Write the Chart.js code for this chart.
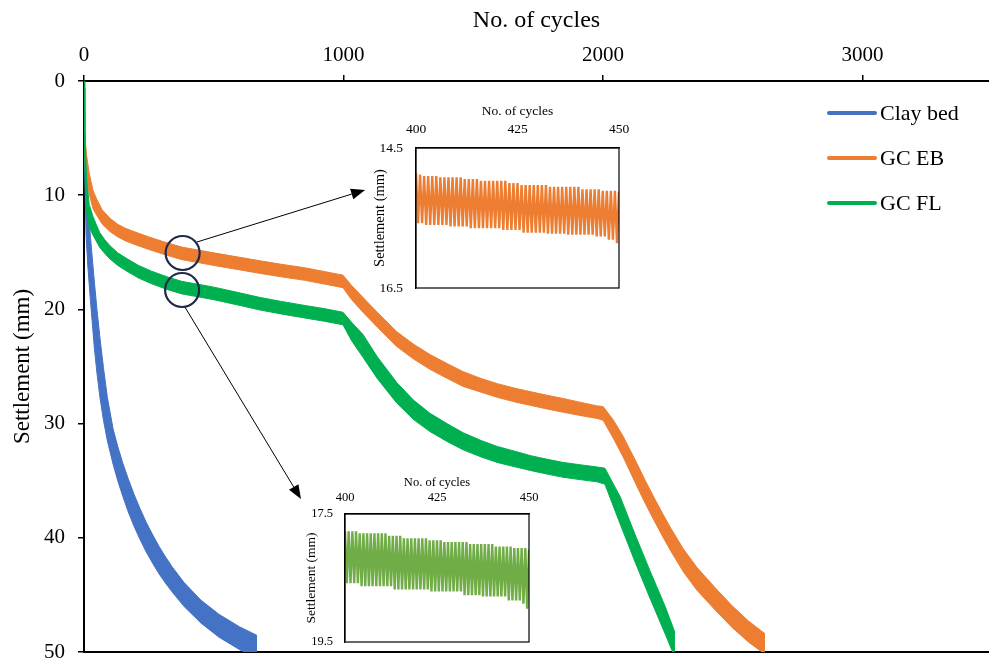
<!DOCTYPE html>
<html>
<head>
<meta charset="utf-8">
<script src="https://cdn.jsdelivr.net/npm/chart.js@4.4.1/dist/chart.umd.min.js"></script>
<style>
  body { margin: 0; background: #fff; }
  #wrap { position: relative; width: 989px; height: 660px; overflow: hidden; }
  canvas { position: absolute; }
</style>
</head>
<body>
<div id="wrap">
  <canvas id="main" width="989" height="660" style="left:0;top:0"></canvas>
  <canvas id="insetEB" width="270" height="200" style="left:360px;top:95px"></canvas>
  <canvas id="insetFL" width="250" height="188" style="left:290px;top:462px"></canvas>
</div>
<script>
// series names (legend order)
const seriesNames = ['Clay bed', 'GC EB', 'GC FL'];

// axis ticks
const cycleTicks = [0, 1000, 2000, 3000];
const settlementTicks = [0, 10, 20, 30, 40, 50];

// Clay bed: band edges (min / max settlement within a cycle), mm
const clayCycles = [0, 3, 8, 15, 25, 40, 50, 62, 75, 90, 112, 130, 150, 170, 193, 215, 240, 265, 289, 315, 340, 385, 450, 520, 600, 667];
const clayTop    = [0, 4.0, 8.5, 10.9, 13.7, 17.6, 20.0, 22.6, 25.1, 27.7, 30.45, 32.0, 33.5, 34.8, 36.2, 37.4, 38.65, 39.75, 40.75, 41.7, 42.55, 43.9, 45.45, 46.7, 47.8, 48.55];
const clayBottom = [0.6, 8.0, 13.5, 16.3, 19.3, 23.4, 25.6, 27.8, 29.7, 31.5, 33.55, 35.0, 36.4, 37.7, 39.0, 40.1, 41.25, 42.25, 43.15, 44.0, 44.75, 46.0, 47.45, 48.7, 49.8, 50.55];

// GC EB
const ebCycles = [0, 4, 10, 20, 35, 50, 70, 100, 130, 160, 200, 250, 310, 378, 440, 500, 590, 680, 760, 850, 930, 998,
  1030, 1075, 1130, 1205, 1270, 1333, 1400, 1461, 1530, 1592, 1660, 1719, 1780, 1846, 1910, 1977, 2000,
  2040, 2077, 2105, 2135, 2165, 2197, 2230, 2262, 2310, 2362, 2430, 2497, 2560, 2624];
const ebTop    = [4.3, 5.0, 6.5, 8.1, 9.6, 10.4, 11.28, 12.02, 12.55, 12.9, 13.25, 13.65, 14.1, 14.55, 14.8, 15.05, 15.4, 15.75, 16.05, 16.35, 16.7, 17.0,
  17.88, 18.95, 20.25, 21.95, 23.05, 23.95, 24.75, 25.45, 26.05, 26.5, 26.9, 27.2, 27.5, 27.8, 28.12, 28.45, 28.5,
  29.7, 31.1, 32.35, 33.7, 35.1, 36.5, 37.9, 39.2, 41.0, 42.6, 44.33, 45.95, 47.28, 48.4];
const ebBottom = [4.7, 7.0, 8.5, 9.9, 11.2, 11.8, 12.52, 13.18, 13.65, 14.0, 14.35, 14.75, 15.2, 15.65, 15.9, 16.15, 16.5, 16.85, 17.15, 17.45, 17.8, 18.1,
  19.12, 20.25, 21.55, 23.25, 24.35, 25.25, 26.05, 26.75, 27.25, 27.7, 28.1, 28.4, 28.7, 29.0, 29.28, 29.55, 29.7,
  31.3, 32.9, 34.25, 35.7, 37.1, 38.5, 39.9, 41.2, 43.0, 44.6, 46.27, 47.85, 49.12, 50.2];

// GC FL
const flCycles = [0, 2, 5, 10, 20, 35, 60, 80, 100, 130, 165, 210, 260, 320, 378, 440, 500, 590, 678, 760, 850, 930, 998,
  1030, 1075, 1130, 1205, 1270, 1333, 1400, 1461, 1530, 1592, 1660, 1719, 1780, 1846, 1910, 1977, 2007,
  2066, 2123, 2181, 2239, 2277];
const flTop    = [0, 2.0, 5.7, 8.6, 10.8, 11.9, 13.25, 13.9, 14.42, 15.05, 15.55, 16.15, 16.65, 17.15, 17.55, 17.8, 18.05, 18.5, 18.95, 19.3, 19.65, 19.95, 20.25,
  21.1, 22.2, 24.15, 26.4, 27.95, 29.1, 30.02, 30.8, 31.48, 32.0, 32.42, 32.8, 33.1, 33.4, 33.6, 33.8, 33.9,
  36.4, 39.7, 42.9, 46.0, 48.3];
const flBottom = [0.1, 6.0, 9.3, 11.4, 12.8, 13.5, 14.55, 15.1, 15.58, 16.15, 16.65, 17.25, 17.75, 18.25, 18.65, 18.9, 19.15, 19.6, 20.05, 20.4, 20.75, 21.05, 21.35,
  22.7, 24.2, 26.05, 28.2, 29.65, 30.7, 31.58, 32.3, 32.92, 33.4, 33.78, 34.1, 34.4, 34.7, 34.9, 35.1, 35.3,
  38.8, 42.1, 45.3, 48.4, 50.5];

// insets: cycles 400-450, one peak per cycle and one trough between
const insetStart = 400;
const insetTicks = [400, 425, 450];
const ebPeaks = [14.86, 14.88, 14.90, 14.90, 14.90, 14.90, 14.92, 14.92, 14.92, 14.92, 14.92, 14.92, 14.945, 14.945, 14.945, 14.945,
  14.97, 14.97, 14.97, 14.97, 14.97, 14.97, 14.97, 15.0, 15.0, 15.0, 15.03, 15.03, 15.03, 15.03, 15.03, 15.03, 15.03,
  15.055, 15.055, 15.055, 15.055, 15.055, 15.055, 15.055, 15.055, 15.09, 15.09, 15.09, 15.09, 15.09, 15.11, 15.11, 15.11, 15.11, 15.125];
const ebTroughs = [15.575, 15.575, 15.60, 15.60, 15.60, 15.60, 15.60, 15.60, 15.62, 15.62, 15.62, 15.62, 15.62,
  15.645, 15.645, 15.645, 15.645, 15.645, 15.645, 15.645, 15.645, 15.67, 15.67, 15.67, 15.67, 15.67,
  15.71, 15.71, 15.71, 15.71, 15.71, 15.71, 15.725, 15.725, 15.725, 15.725, 15.725,
  15.74, 15.74, 15.74, 15.74, 15.74, 15.74, 15.74, 15.765, 15.765, 15.765, 15.81, 15.81, 15.86];
const flPeaks = [17.77, 17.77, 17.77, 17.77, 17.80, 17.80, 17.80, 17.80, 17.80, 17.80, 17.80, 17.80, 17.84, 17.84, 17.84, 17.84,
  17.88, 17.88, 17.88, 17.88, 17.88, 17.88, 17.88, 17.91, 17.91, 17.91, 17.91, 17.94, 17.94, 17.94, 17.94, 17.94, 17.94, 17.94,
  17.97, 17.97, 17.97, 17.97, 17.97, 17.97, 17.97, 18.01, 18.01, 18.01, 18.01, 18.01, 18.03, 18.03, 18.03, 18.03, 18.06];
const flTroughs = [18.58, 18.58, 18.58, 18.58, 18.63, 18.63, 18.63, 18.63, 18.63, 18.63, 18.63, 18.63, 18.63,
  18.68, 18.68, 18.68, 18.68, 18.68, 18.68, 18.68, 18.68, 18.68, 18.68, 18.71, 18.71, 18.71, 18.71, 18.71, 18.71, 18.71, 18.71, 18.71,
  18.77, 18.77, 18.77, 18.77, 18.77, 18.79, 18.79, 18.79, 18.79, 18.79, 18.79, 18.79, 18.85, 18.85, 18.85, 18.85, 18.90, 18.98];

const SERIF = "'Liberation Serif', 'Times New Roman', serif";
const BLUE = '#4472C4', ORANGE = '#ED7D31', GREEN = '#00B050', GREEN_INSET = '#70AD47';

function pts(cycles, vals) {
    return cycles.map((c, i) => ({x: c, y: vals[i]}));
}

function edge(label, data, color, fill) {
    return {
        label, data, xAxisID: 'x', yAxisID: 'y',
        borderColor: color, backgroundColor: color, borderWidth: 1,
        pointRadius: 0, tension: 0, fill
    };
}

// green drawn last (index 0 is painted on top)
const mainDatasets = [
    edge(seriesNames[2], pts(flCycles, flTop), GREEN, false),
    edge(seriesNames[2] + ' max', pts(flCycles, flBottom), GREEN, '-1'),
    edge(seriesNames[1], pts(ebCycles, ebTop), ORANGE, false),
    edge(seriesNames[1] + ' max', pts(ebCycles, ebBottom), ORANGE, '-1'),
    edge(seriesNames[0], pts(clayCycles, clayTop), BLUE, false),
    edge(seriesNames[0] + ' max', pts(clayCycles, clayBottom), BLUE, '-1')
];

// legend at right
const sideLegend = {
    id: 'sideLegend',
    afterDraw(chart) {
        const ctx = chart.ctx;
        const colors = [BLUE, ORANGE, GREEN];
        ctx.save();
        ctx.font = '22px ' + SERIF;
        ctx.textBaseline = 'middle';
        seriesNames.forEach((name, i) => {
            const y = 113 + i * 45;
            ctx.strokeStyle = colors[i];
            ctx.lineWidth = 4;
            ctx.lineCap = 'round';
            ctx.beginPath();
            ctx.moveTo(829, y);
            ctx.lineTo(875, y);
            ctx.stroke();
            ctx.fillStyle = '#000';
            ctx.fillText(name, 880, y + 1);
        });
        ctx.restore();
    }
};

// circles + arrows pointing to the insets (data coords)
const circleSpots = [[380, 15.06], [378, 18.3]];
const arrowLines = [[[435, 14.1], [1083, 9.54]], [[389, 19.8], [836, 36.6]]];

const callouts = {
    id: 'callouts',
    afterDatasetsDraw(chart) {
        const {ctx, scales: {x, y}} = chart;
        ctx.save();
        ctx.strokeStyle = '#1F2A4A';
        ctx.lineWidth = 2.2;
        circleSpots.forEach(([c, s]) => {
            ctx.beginPath();
            ctx.arc(x.getPixelForValue(c), y.getPixelForValue(s), 17, 0, Math.PI * 2);
            ctx.stroke();
        });
        ctx.strokeStyle = '#000';
        ctx.fillStyle = '#000';
        ctx.lineWidth = 1;
        arrowLines.forEach(([a, b]) => {
            const x0 = x.getPixelForValue(a[0]), y0 = y.getPixelForValue(a[1]);
            const x1 = x.getPixelForValue(b[0]), y1 = y.getPixelForValue(b[1]);
            const len = Math.hypot(x1 - x0, y1 - y0);
            const ux = (x1 - x0) / len, uy = (y1 - y0) / len;
            const bx = x1 - ux * 14, by = y1 - uy * 14;
            ctx.beginPath();
            ctx.moveTo(x0, y0);
            ctx.lineTo(bx, by);
            ctx.stroke();
            ctx.beginPath();
            ctx.moveTo(x1, y1);
            ctx.lineTo(bx - uy * 5.5, by + ux * 5.5);
            ctx.lineTo(bx + uy * 5.5, by - ux * 5.5);
            ctx.closePath();
            ctx.fill();
        });
        ctx.restore();
    }
};

const tickGrid = {display: true, drawOnChartArea: false, drawTicks: true, tickLength: 6, color: '#000', lineWidth: 1.5};
const axisBorder = {display: true, color: '#000', width: 2};

new Chart(document.getElementById('main'), {
    type: 'line',
    data: {datasets: mainDatasets},
    options: {
        responsive: false,
        animation: false,
        devicePixelRatio: 1,
        layout: {padding: 0},
        plugins: {legend: {display: false}, tooltip: {enabled: false}},
        scales: {
            x: {
                type: 'linear', position: 'top', min: 0, max: 3487,
                afterBuildTicks: s => { s.ticks = cycleTicks.map(v => ({value: v})); },
                ticks: {color: '#000', padding: 7, font: {family: SERIF, size: 21}, callback: v => String(v)},
                grid: tickGrid,
                border: axisBorder,
                title: {display: true, text: 'No. of cycles', color: '#000',
                    font: {family: SERIF, size: 24}, padding: {top: 6, bottom: 0}},
                afterFit: s => { s.height = 81; s.paddingLeft = 0; s.paddingRight = 0; }
            },
            y: {
                type: 'linear', position: 'left', reverse: true, min: 0, max: 50,
                afterBuildTicks: s => { s.ticks = settlementTicks.map(v => ({value: v})); },
                ticks: {color: '#000', padding: 13, font: {family: SERIF, size: 21}, callback: v => String(v)},
                grid: tickGrid,
                border: axisBorder,
                title: {display: true, text: 'Settlement (mm)', color: '#000',
                    font: {family: SERIF, size: 23}, padding: {top: 9, bottom: 0}},
                afterFit: s => { s.width = 84; s.paddingTop = 0; s.paddingBottom = 0; }
            },
            x2: {
                type: 'linear', position: 'bottom', min: 0, max: 3487,
                ticks: {display: false},
                grid: {display: false, drawTicks: false},
                border: axisBorder,
                afterFit: s => { s.height = 8; s.paddingLeft = 0; s.paddingRight = 0; }
            }
        }
    },
    plugins: [callouts, sideLegend]
});

// ---------- insets ----------
function sawtooth(peaks, troughs) {
    const out = [];
    peaks.forEach((p, i) => {
        out.push({x: insetStart + i, y: p});
        if (i < troughs.length) out.push({x: insetStart + i + 0.5, y: troughs[i]});
    });
    return out;
}

const frame = {
    id: 'frame',
    afterDraw(chart) {
        const {ctx, chartArea: a} = chart;
        ctx.save();
        ctx.strokeStyle = '#000';
        ctx.lineWidth = 1.2;
        ctx.strokeRect(a.left, a.top, a.right - a.left, a.bottom - a.top);
        ctx.restore();
    }
};

function makeInset(id, data, color, yMin, yMax, g) {
    return new Chart(document.getElementById(id), {
        type: 'line',
        data: {datasets: [{data, borderColor: color, borderWidth: 2.4, pointRadius: 0, tension: 0}]},
        options: {
            responsive: false,
            animation: false,
            devicePixelRatio: 1,
            layout: {padding: {right: g.padRight, bottom: g.padBottom, top: 0, left: 0}},
            plugins: {legend: {display: false}, tooltip: {enabled: false}},
            scales: {
                x: {
                    type: 'linear', position: 'top', min: 400, max: 450,
                    afterBuildTicks: s => { s.ticks = insetTicks.map(v => ({value: v})); },
                    ticks: {color: '#000', padding: g.xTickPad,
                        font: {family: SERIF, size: g.font}, callback: v => String(v)},
                    grid: {display: false, drawTicks: false},
                    border: {display: true, color: '#000', width: 1.2},
                    title: {display: true, text: 'No. of cycles', color: '#000',
                        font: {family: SERIF, size: g.font}, padding: {top: g.xTitlePad, bottom: 0}},
                    afterFit: s => { s.height = g.top; s.paddingLeft = 0; s.paddingRight = 0; }
                },
                y: {
                    type: 'linear', position: 'left', reverse: true, min: yMin, max: yMax,
                    afterBuildTicks: s => { s.ticks = [{value: yMin}, {value: yMax}]; },
                    ticks: {color: '#000', padding: g.yTickPad,
                        font: {family: SERIF, size: g.font}, callback: v => v.toFixed(1)},
                    grid: {display: false, drawTicks: false},
                    border: {display: true, color: '#000', width: 1.2},
                    title: {display: true, text: 'Settlement (mm)', color: '#000',
                        font: {family: SERIF, size: g.yTitleFont}, padding: {top: g.yTitlePad, bottom: 0}},
                    afterFit: s => { s.width = g.left; s.paddingTop = 0; s.paddingBottom = 0; }
                }
            }
        },
        plugins: [frame]
    });
}

makeInset('insetEB', sawtooth(ebPeaks, ebTroughs), ORANGE, 14.5, 16.5,
    {left: 56, top: 53, padRight: 11, padBottom: 7, font: 13.5, yTitleFont: 14.5,
     xTickPad: 10, xTitlePad: 8, yTickPad: 13, yTitlePad: 11});
makeInset('insetFL', sawtooth(flPeaks, flTroughs), GREEN_INSET, 17.5, 19.5,
    {left: 55, top: 52, padRight: 11, padBottom: 8, font: 12.5, yTitleFont: 13.5,
     xTickPad: 9, xTitlePad: 13, yTickPad: 12, yTitlePad: 13});
</script>
</body>
</html>
